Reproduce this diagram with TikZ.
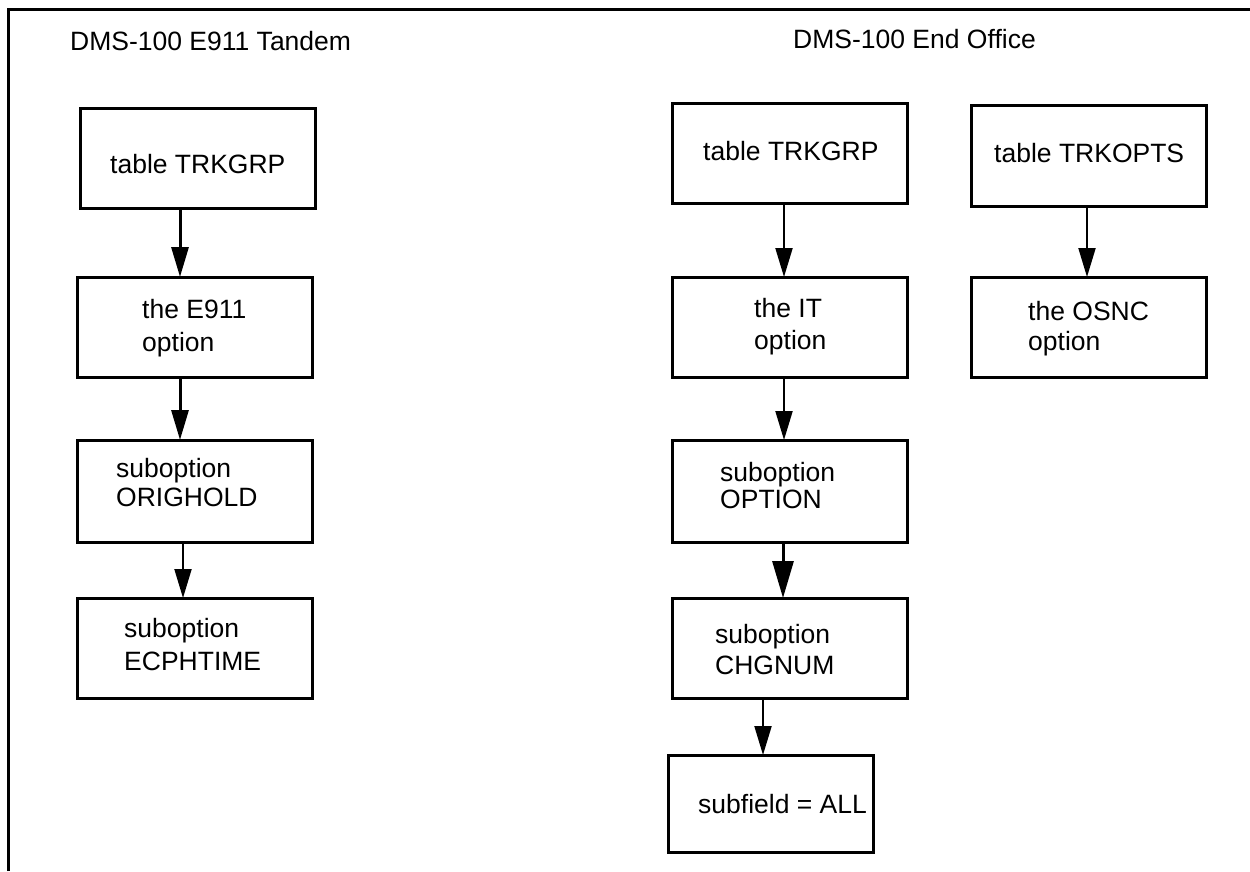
\documentclass[tikz,border=0pt]{standalone}
\usepackage{fontspec}
\setmainfont{Liberation Sans}
\usetikzlibrary{arrows.meta}
\begin{document}
\begin{tikzpicture}[x=1pt,y=-1pt,
  box/.style={draw, line width=3pt, rectangle, inner sep=0pt, outer sep=0pt, minimum width=235pt, minimum height=100pt},
  txt/.style={inner sep=0pt, anchor=base west, align=left, font=\fontsize{26.5}{30}\selectfont},
  arrthin/.style={line width=2pt, -{Triangle[length=29pt,width=17pt]}},
  arrthick/.style={line width=3pt, -{Triangle[length=30pt,width=17pt]}},
  arrbig/.style={line width=3pt, -{Triangle[length=37pt,width=21pt]}},
  frame/.style={line width=3pt}
]
\useasboundingbox (0,0) rectangle (1250,871);
\coordinate (fa) at (8.5,871);
\coordinate (fb) at (8.5,9.5);
\coordinate (fc) at (1250,9.5);
\draw[frame] (fa) -- (fb) -- (fc);

% headers
\node[txt] (h1) at (70,50) {DMS-100 E911 Tandem};
\node[txt] (h2) at (793,48) {DMS-100 End Office};

% left column boxes
\node[box] (L1) at (197.5,158) {};
\node[box] (L2) at (194.5,327) {};
\node[box, minimum height=102pt] (L3) at (194.5,491) {};
\node[box] (L4) at (194.5,648) {};

% right column boxes
\node[box] (R1) at (789.5,153) {};
\node[box] (R2) at (789.5,327) {};
\node[box, minimum height=102pt] (R3) at (789.5,491) {};
\node[box] (R4) at (789.5,648) {};
\node[box, minimum width=205pt, minimum height=97pt] (R5) at (770.5,803.5) {};
\node[box, minimum height=101pt] (T1) at (1088.5,155.5) {};
\node[box] (T2) at (1088.5,327) {};

% texts (two-line nodes are placed by the baseline of their last line)
\node[txt] (tL1) at (110,173) {table TRKGRP};
\node[txt] (tL2) at (142,351) {the E911\\[3pt]option};
\node[txt] (tL3) at (116,506) {suboption\\[-1pt]ORIGHOLD};
\node[txt] (tL4) at (124,670) {suboption\\[3pt]ECPHTIME};
\node[txt] (tR1) at (703,160) {table TRKGRP};
\node[txt] (tR2) at (754,349) {the IT\\[2pt]option};
\node[txt] (tR3) at (720,508) {suboption\\[-3pt]OPTION};
\node[txt] (tR4) at (715,674) {suboption\\[1pt]CHGNUM};
\node[txt] (tR5) at (698,813) {subfield = ALL};
\node[txt] (tT1) at (994,162) {table TRKOPTS};
\node[txt] (tT2) at (1028,350) {the OSNC\\option};

% connectors
\draw[arrthick] (L1.south -| 180,0) -- (L2.north -| 180,0);
\draw[arrthick] (L2.south -| 180,0) -- (L3.north -| 180,0);
\draw[arrthin] (L3.south -| 183,0) -- (L4.north -| 183,0);
\draw[arrthin] (R1.south -| 784,0) -- (R2.north -| 784,0);
\draw[arrthin] (R2.south -| 784,0) -- (R3.north -| 784,0);
\draw[arrbig] (R3.south -| 783,0) -- (R4.north -| 783,0);
\draw[arrthin] (R4.south -| 763,0) -- (R5.north -| 763,0);
\draw[arrthin] (T1.south -| 1087,0) -- (T2.north -| 1087,0);
\end{tikzpicture}
\end{document}
